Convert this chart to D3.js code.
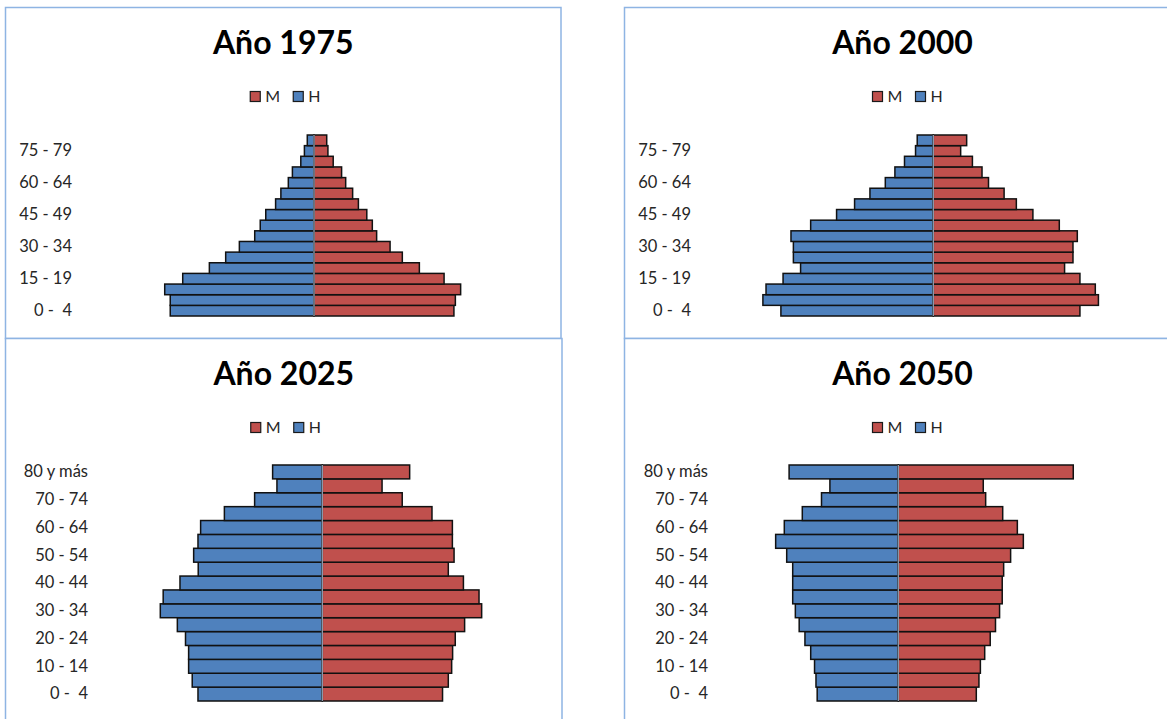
<!DOCTYPE html>
<html>
<head>
<meta charset="utf-8">
<script src="https://cdn.jsdelivr.net/npm/d3@7"></script>
<style>
  html, body { margin: 0; padding: 0; background: #ffffff; }
  svg { display: block; }
  text { font-family: Lato, "Open Sans", sans-serif; }
</style>
</head>
<body>
<svg id="chart" width="1167" height="719"></svg>
<script>
// ---- Data (age groups from youngest to oldest) ----
const categories = ["0 -  4","5 -  9","10 - 14","15 - 19","20 - 24","25 - 29","30 - 34","35 - 39",
  "40 - 44","45 - 49","50 - 54","55 - 59","60 - 64","65 - 69","70 - 74","75 - 79","80 y más"];

const years = ["Año 1975", "Año 2000", "Año 2025", "Año 2050"];
const seriesNames = ["M", "H"];

const h1975 = [59.9, 59.9, 62.2, 54.7, 43.6, 36.8, 31.1, 24.7, 22.4, 20.1, 16.0, 13.8, 10.7, 9.0, 5.5, 4.0, 2.8];
const m1975 = [58.3, 58.9, 61.1, 54.2, 43.9, 36.8, 31.7, 26.1, 24.3, 22.0, 18.5, 16.1, 13.2, 11.5, 8.0, 5.8, 5.3];

const h2000 = [63.5, 71.0, 69.7, 62.6, 55.3, 58.3, 58.3, 59.3, 51.1, 40.3, 32.8, 26.4, 20.0, 16.0, 12.0, 7.4, 6.7];
const m2000 = [61.1, 68.8, 67.5, 61.1, 54.7, 58.2, 58.2, 60.0, 52.5, 41.5, 34.6, 29.5, 23.0, 20.3, 16.3, 11.4, 13.9];

const h2025 = [51.8, 54.2, 55.7, 55.7, 57.0, 60.4, 67.5, 66.3, 59.3, 51.7, 53.6, 51.8, 50.7, 40.8, 28.2, 18.9, 20.7];
const m2025 = [50.1, 52.5, 53.9, 54.3, 55.4, 59.3, 66.4, 65.3, 58.8, 52.5, 54.9, 54.2, 54.2, 45.7, 33.3, 24.9, 36.4];

const h2050 = [33.8, 34.3, 34.9, 36.5, 38.9, 41.3, 42.9, 44.0, 44.0, 44.0, 46.5, 51.1, 47.5, 40.0, 32.0, 28.5, 45.5];
const m2050 = [32.5, 33.6, 34.2, 36.0, 38.3, 40.5, 42.2, 43.3, 43.3, 43.9, 46.8, 52.1, 49.6, 43.5, 36.4, 35.4, 72.9];

// which category labels are shown on each chart's axis
const tickStep = [3, 3, 2, 2];

// ---- Layout ----
const colors = { M: "#C0504D", H: "#4F81BD" };
const panels = [
  { title: years[0], h: h1975, m: m1975, box: [5.5, 7.5, 555.5, 331], cx: 314,   labelX: 72,  top: 135, bottom: 316 },
  { title: years[1], h: h2000, m: m2000, box: [624.5, 7.5, 560, 331], cx: 933.3, labelX: 691, top: 135, bottom: 316 },
  { title: years[2], h: h2025, m: m2025, box: [5.5, 338.5, 556.5, 400], cx: 322.3, labelX: 88, top: 465, bottom: 701 },
  { title: years[3], h: h2050, m: m2050, box: [624.5, 338.5, 560, 400], cx: 898.3, labelX: 708, top: 465, bottom: 701 }
];

const svg = d3.select("#chart");

panels.forEach((p, i) => {
  const [bx, by, bw, bh] = p.box;
  const g = svg.append("g");

  g.append("rect")
    .attr("x", bx).attr("y", by).attr("width", bw).attr("height", bh)
    .attr("fill", "#ffffff")
    .attr("stroke", "#8EB4E3").attr("stroke-width", 1.5);

  // title
  g.append("text")
    .attr("x", bx + bw / 2 - (i % 2 === 1 ? 2 : 0))
    .attr("y", by + 46)
    .attr("text-anchor", "middle")
    .attr("font-size", 32)
    .attr("font-weight", "bold")
    .attr("fill", "#000")
    .text(p.title);

  // scales
  const x = d3.scaleLinear().domain([-100, 100]).range([p.cx - 240, p.cx + 240]);
  const y = d3.scaleBand().domain(categories.slice().reverse()).range([p.top, p.bottom]).padding(0);

  // bars H (left)
  g.append("g").selectAll("rect")
    .data(categories.map((c, k) => ({ c, v: p.h[k] })))
    .join("rect")
    .attr("x", d => x(-d.v))
    .attr("y", d => y(d.c))
    .attr("width", d => x(0) - x(-d.v))
    .attr("height", y.bandwidth())
    .attr("fill", colors.H)
    .attr("stroke", "#111").attr("stroke-width", 1.5);

  // bars M (right)
  g.append("g").selectAll("rect")
    .data(categories.map((c, k) => ({ c, v: p.m[k] })))
    .join("rect")
    .attr("x", x(0))
    .attr("y", d => y(d.c))
    .attr("width", d => x(d.v) - x(0))
    .attr("height", y.bandwidth())
    .attr("fill", colors.M)
    .attr("stroke", "#111").attr("stroke-width", 1.5);

  // central axis line
  g.append("line")
    .attr("x1", x(0)).attr("x2", x(0))
    .attr("y1", p.top).attr("y2", p.bottom)
    .attr("stroke", "#9AA9BC").attr("stroke-width", 1.2);

  // category axis labels
  const shown = categories.filter((c, k) => k % tickStep[i] === 0);
  const axis = d3.axisLeft(y).tickValues(shown).tickSize(0).tickPadding(0);
  const ag = g.append("g").attr("transform", `translate(${p.labelX},0)`).call(axis);
  ag.select(".domain").remove();
  ag.selectAll("text")
    .attr("font-size", 16.5)
    .attr("fill", "#262626")
    .style("white-space", "pre")
    .attr("font-family", "Lato, 'Open Sans', sans-serif");

  // legend
  const lg = g.append("g");
  const legY = by + 89;
  const legX0 = bx + bw / 2 - 33 - (i % 2 === 1 ? -1 : 0);
  const items = seriesNames.map((s, k) => ({ s, dx: k * 43 }));
  items.forEach(it => {
    lg.append("rect")
      .attr("x", legX0 + it.dx).attr("y", legY - 5)
      .attr("width", 10).attr("height", 10)
      .attr("fill", colors[it.s])
      .attr("stroke", "#1a1a1a").attr("stroke-width", 1.2);
    lg.append("text")
      .attr("x", legX0 + it.dx + 15).attr("y", legY + 5.5)
      .attr("font-size", 16)
      .attr("fill", "#262626")
      .text(it.s);
  });
});
</script>
</body>
</html>
